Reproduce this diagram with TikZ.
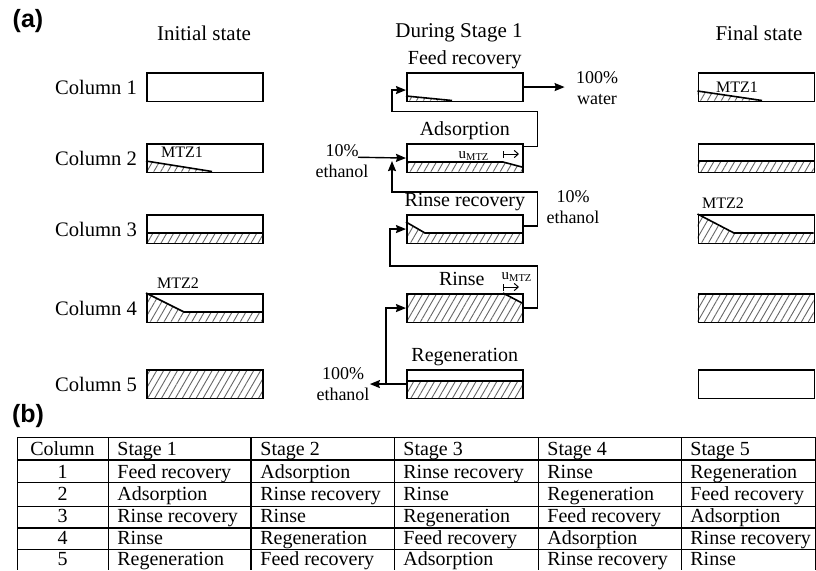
\documentclass[tikz,border=0pt]{standalone}
\usepackage{fontspec}
\setmainfont{Liberation Serif}
\newfontfamily\panelfont{Liberation Sans}
\usetikzlibrary{arrows.meta,positioning,patterns.meta,calc}

\tikzset{
  column/.style={draw, line width=0.8pt, minimum width=58pt, minimum height=14.25pt,
    inner sep=0pt, anchor=north west},
  bed/.style={pattern={Lines[angle=60,distance=3pt,line width=0.45pt]}, pattern color=black!60},
  front/.style={line width=0.8pt},
  flow/.style={->, line width=0.7pt},
  drift/.style={arrows={Bar[width=3.5pt]-Straight Barb[length=2pt,width=3.6pt]}, line width=0.5pt},
  panel/.style={font=\panelfont\bfseries\fontsize{12.5}{14}\selectfont},
  heading/.style={font=\fontsize{10.5}{12}\selectfont},
  collabel/.style={font=\fontsize{10.3}{12}\selectfont},
  stagelabel/.style={font=\fontsize{10}{12}\selectfont, inner sep=1pt, text height=6.8pt, text depth=2.2pt},
  stream/.style={font=\fontsize{9}{10.5}\selectfont, align=center, inner sep=0pt},
  mtz/.style={font=\fontsize{8}{9}\selectfont, inner sep=0pt},
  cell/.style={font=\fontsize{10}{12}\selectfont, inner sep=0pt},
  rule/.style={line width=0.5pt},
  boldrule/.style={line width=1.1pt}
}

\begin{document}
\begin{tikzpicture}[x=0.5pt, y=-0.5pt, >={Stealth[length=5pt,width=4pt,inset=0.6pt]}]
\useasboundingbox (0,0) rectangle (816,570);

% (a) headings
\node[panel] (pa) at (28,21) {(a)};
\node[heading] (hinit) at (204,33) {Initial state};
\node[heading] (hstage) at (459,33) {During Stage 1};
\node[heading] (hfinal) at (759,33) {Final state};

% loaded bed, initial state
\path[bed] (146,161) -- (212,171.5) -- (146,171.5) -- cycle;
\draw[front] (146,161) -- (212,171.5);
\path[bed] (146,233) rectangle (262,242.5);
\draw[front] (146,233) -- (262,233);
\path[bed] (146,293) -- (184,312) -- (262,312) -- (262,321.5) -- (146,321.5) -- cycle;
\draw[front] (146,293) -- (184,312) -- (262,312);
\path[bed] (146,369) rectangle (262,397.5);

% loaded bed, stage 1
\path[bed] (406,96) -- (452,100.5) -- (406,100.5) -- cycle;
\draw[front] (406,96) -- (452,100.5);
\path[bed] (406,162) -- (503,162) -- (522,167) -- (522,171.5) -- (406,171.5) -- cycle;
\draw[front] (406,162) -- (503,162) -- (522,167);
\path[bed] (406,222) -- (425,233) -- (522,233) -- (522,242.5) -- (406,242.5) -- cycle;
\draw[front] (406,222) -- (425,233) -- (522,233);
\path[bed] (406,293) -- (503,293) -- (522,303) -- (522,321.5) -- (406,321.5) -- cycle;
\draw[front] (503,293) -- (522,303);
\path[bed] (406,381) rectangle (522,397.5);
\draw[front] (406,381) -- (522,381);

% loaded bed, final state
\path[bed] (697.5,91) -- (762,100.5) -- (697.5,100.5) -- cycle;
\draw[front] (697.5,91) -- (762,100.5);
\path[bed] (697.5,161) rectangle (813.5,171.5);
\draw[front] (697.5,161) -- (813.5,161);
\path[bed] (697.5,214) -- (734,233) -- (813.5,233) -- (813.5,242.5) -- (697.5,242.5) -- cycle;
\draw[front] (697.5,214) -- (734,233) -- (813.5,233);
\path[bed] (697.5,293) rectangle (813.5,321.5);

% columns
\foreach \n/\y in {1/72,2/143,3/214,4/293,5/369} {
  \node[column] (i\n) at (146,\y) {};
  \node[collabel, left=1pt of i\n] (c\n) {Column \n};
  \node[column] (f\n) at (697.5,\y) {};
}
\node[column] (feed) at (406,72) {};
\node[column] (ads) at (406,143) {};
\node[column] (rr) at (406,214) {};
\node[column] (rinse) at (406,293) {};
\node[column] (regen) at (406,369) {};

\node[stagelabel, above=0.5pt of feed] (lfeed) {Feed recovery};
\node[stagelabel, above=0.5pt of ads] (lads) {Adsorption};
\node[stagelabel, above=0.5pt of rr] (lrr) {Rinse recovery};
\node[stagelabel, above=0.5pt of rinse, xshift=-1.5pt] (lrinse) {Rinse};
\node[stagelabel, above=0.5pt of regen] (lregen) {Regeneration};

\node[mtz] (mi1) at (182,152) {MTZ1};
\node[mtz] (mi2) at (178,283) {MTZ2};
\node[mtz] (mf1) at (737,87) {MTZ1};
\node[mtz] (mf2) at (723,203) {MTZ2};

% front velocity
\node[mtz, font=\fontsize{7.5}{9}\selectfont] (ua) at (474,156) {u\textsubscript{MTZ}};
\coordinate (uas) at (503,154);
\coordinate (uae) at (519,154);
\draw[drift] (uas) -- (uae);
\node[mtz, font=\fontsize{7.5}{9}\selectfont] (ur) at (517,277) {u\textsubscript{MTZ}};
\coordinate (urs) at (503,287);
\coordinate (ure) at (519,287);
\draw[drift] (urs) -- (ure);

% streams
\node[stream] (water) at (597,88) {100\%\\water};
\node[stream] (ethin) at (342,161) {10\%\\ethanol};
\node[stream] (ethout) at (573,207.5) {10\%\\ethanol};
\node[stream] (ethreg) at (343,384.5) {100\%\\ethanol};

\draw[flow, shorten >=5.5pt] (feed.east) -- (feed.east -| water.west);
\draw[flow] ($(ads.north east)+(0,3.5)$) -| ++(14,-35) -| ($(feed.west)+(-14,3)$) -- ($(feed.west)+(0,3)$);
\coordinate (feedin) at (358,157.25);
\draw[flow] (feedin) -- (ads.west);
\draw[flow] ($(rr.east)+(0,-3)$) -| ++(14,-34) -| ($(ads.west)+(-14,3)$);
\draw[flow] (rinse.east) -| ++(14,-42) -| ($(rr.west)+(-16,0)$) -- (rr.west);
\coordinate (split) at ($(regen.west)+(-20,0)$);
\draw[flow] (regen.west) -- (ethreg.east |- regen.west);
\draw[flow] (split) |- (rinse.west);

% (b) table
\node[panel] (pb) at (28,416) {(b)};
\foreach \y in {437,482.5,506,549.5} \draw[rule] (17,\y) -- (816,\y);
\foreach \y in {460,528} \draw[boldrule] (17,\y) -- (816,\y);
\foreach \x in {17,108,394,538,681,815.6} \draw[rule] (\x,437) -- (\x,570);
\draw[rule, line width=0.9pt] (251,437) -- (251,570);

\node[cell, anchor=base] (hcol) at (62.5,455.5) {Column};
\foreach \s/\x in {1/117,2/260,3/403,4/547,5/690}
  \node[cell, anchor=base west] (hs\s) at (\x,455.5) {Stage \s};
\foreach \r/\yb/\a/\b/\c/\d/\e in {
    1/478/Feed recovery/Adsorption/Rinse recovery/Rinse/Regeneration,
    2/500.5/Adsorption/Rinse recovery/Rinse/Regeneration/Feed recovery,
    3/522.5/Rinse recovery/Rinse/Regeneration/Feed recovery/Adsorption,
    4/544.5/Rinse/Regeneration/Feed recovery/Adsorption/Rinse recovery,
    5/565.5/Regeneration/Feed recovery/Adsorption/Rinse recovery/Rinse} {
  \node[cell, anchor=base] (t\r-0) at (62.5,\yb) {\r};
  \node[cell, anchor=base west] (t\r-1) at (117,\yb) {\a};
  \node[cell, anchor=base west] (t\r-2) at (260,\yb) {\b};
  \node[cell, anchor=base west] (t\r-3) at (403,\yb) {\c};
  \node[cell, anchor=base west] (t\r-4) at (547,\yb) {\d};
  \node[cell, anchor=base west] (t\r-5) at (690,\yb) {\e};
}
\end{tikzpicture}
\end{document}
